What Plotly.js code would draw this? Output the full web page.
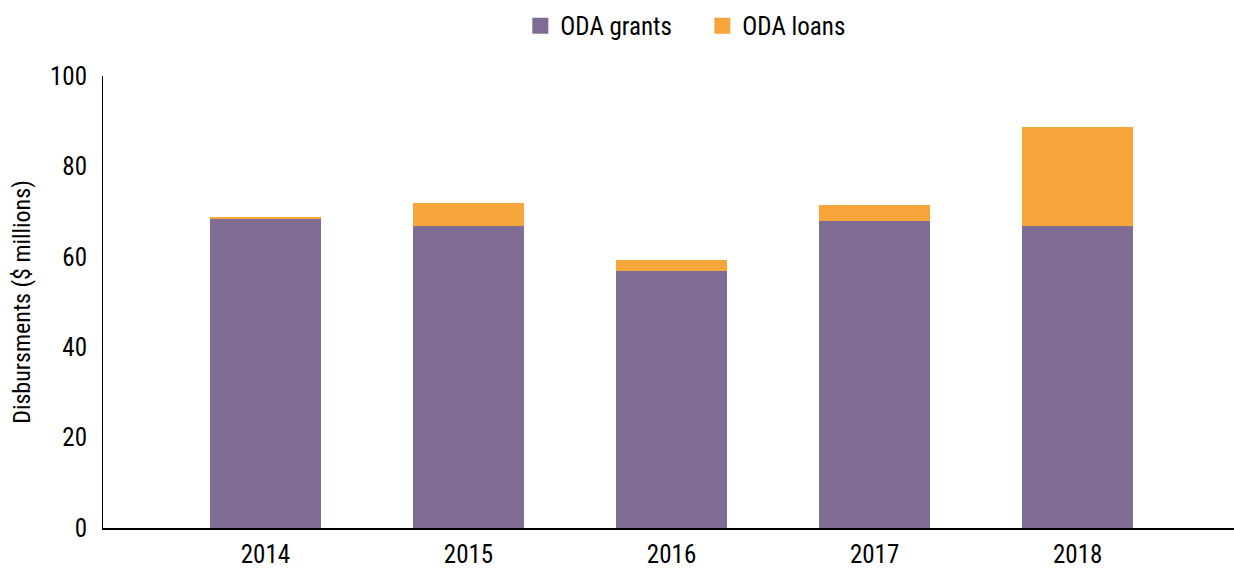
<!DOCTYPE html>
<html><head><meta charset="utf-8">
<script src="https://cdn.plot.ly/plotly-3.0.1.min.js"></script>
<style>body{margin:0;padding:0;}#chart{width:1234px;height:570px;}</style>
</head><body><div id="chart"></div>
<script>
const years = ["2014","2015","2016","2017","2018"];
const grants = [68.4, 66.8, 56.9, 67.9, 66.8];
const loans = [0.4, 5.1, 2.4, 3.6, 21.9];
const seriesNames = ["ODA grants", "ODA loans"];
const colors = ['#7f6d93', '#f6a53b'];

const font = "'Liberation Sans Narrow', 'Roboto Condensed', 'DejaVu Sans Condensed', Arial, sans-serif";
const data = [
  {type:'bar', name:seriesNames[0], x:years, y:grants, marker:{color:colors[0]}, showlegend:false},
  {type:'bar', name:seriesNames[1], x:years, y:loans, marker:{color:colors[1]}, showlegend:false},
  {type:'scatter', mode:'markers', name:seriesNames[0], x:[null], y:[null], marker:{symbol:'square', size:22, color:colors[0]}},
  {type:'scatter', mode:'markers', name:seriesNames[1], x:[null], y:[null], marker:{symbol:'square', size:22, color:colors[1]}}
];
const layout = {
  width:1234, height:570,
  barmode:'stack', bargap:0.453,
  margin:{l:103, r:0, t:76, b:42},
  font:{family:font, size:24, color:'#000'},
  paper_bgcolor:'#fff', plot_bgcolor:'#fff',
  showlegend:true,
  legend:{orientation:'h', x:0.369, xanchor:'left', y:1.06, yanchor:'bottom', font:{size:25}, traceorder:'normal', itemwidth:30, entrywidth:137, entrywidthmode:'pixels'},
  xaxis:{type:'category', range:[-0.8, 4.77], showline:true, linecolor:'#000', linewidth:1.5, ticks:'', showgrid:false, zeroline:false, tickfont:{size:25}, ticklabelstandoff:3},
  yaxis:{range:[0,100], dtick:20, showline:true, linecolor:'#000', linewidth:1, ticks:'', showgrid:false, zeroline:false, tickfont:{size:25}, ticklen:0, ticklabelstandoff:10,
    title:{text:'Disbursments ($ millions)', font:{size:24}, standoff:12}}
};
Plotly.newPlot('chart', data, layout, {displayModeBar:false, staticPlot:true});
</script></body></html>
